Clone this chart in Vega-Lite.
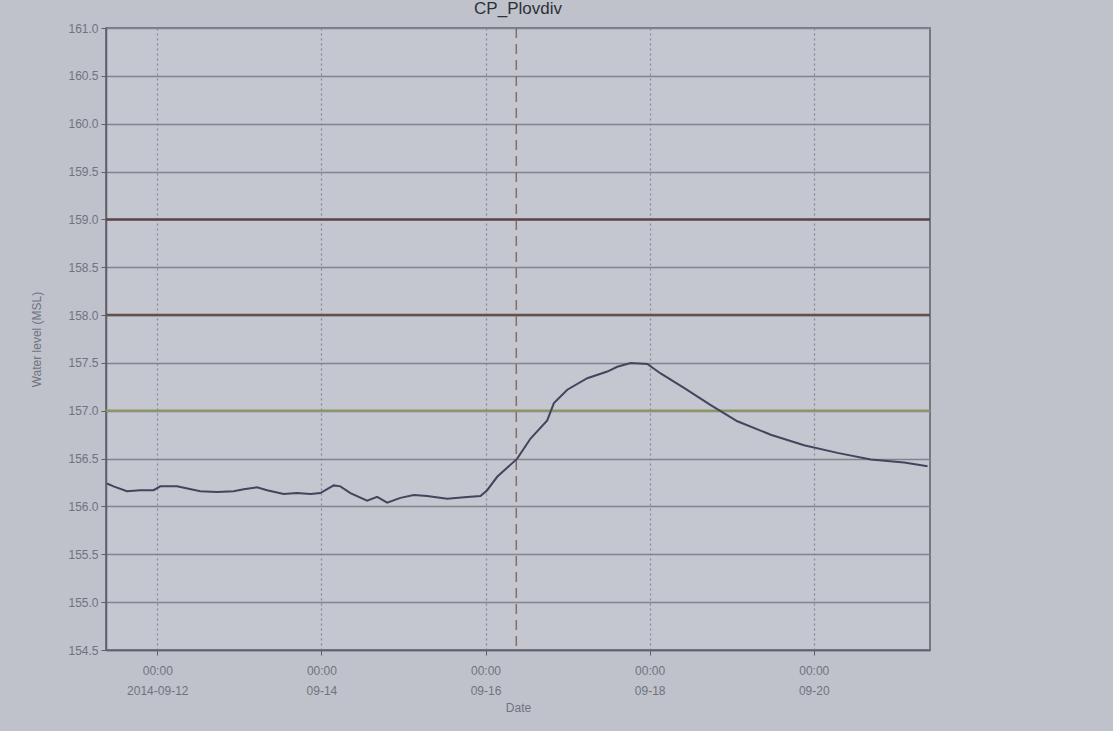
{
  "$schema": "https://vega.github.io/schema/vega-lite/v6.json",
  "autosize": "none",
  "width": 824,
  "height": 622,
  "padding": {"left": 106, "top": 28, "right": 183, "bottom": 81},
  "background": "#bfc2cb",
  "title": {"text": "CP_Plovdiv", "fontSize": 17, "font": "Liberation Sans", "fontWeight": "normal", "color": "#2e3038", "offset": 4},
  "datasets": {
    "level": [
      {"time": "2014-09-11T09:18", "level": 156.24},
      {"time": "2014-09-11T11:12", "level": 156.21},
      {"time": "2014-09-11T15:08", "level": 156.16},
      {"time": "2014-09-11T19:01", "level": 156.17},
      {"time": "2014-09-11T22:55", "level": 156.17},
      {"time": "2014-09-12T00:53", "level": 156.21},
      {"time": "2014-09-12T05:46", "level": 156.21},
      {"time": "2014-09-12T12:35", "level": 156.16},
      {"time": "2014-09-12T17:28", "level": 156.15},
      {"time": "2014-09-12T22:20", "level": 156.16},
      {"time": "2014-09-13T01:16", "level": 156.18},
      {"time": "2014-09-13T05:11", "level": 156.2},
      {"time": "2014-09-13T08:06", "level": 156.17},
      {"time": "2014-09-13T12:58", "level": 156.13},
      {"time": "2014-09-13T16:53", "level": 156.14},
      {"time": "2014-09-13T20:47", "level": 156.13},
      {"time": "2014-09-13T23:42", "level": 156.14},
      {"time": "2014-09-14T03:36", "level": 156.22},
      {"time": "2014-09-14T05:34", "level": 156.21},
      {"time": "2014-09-14T08:29", "level": 156.14},
      {"time": "2014-09-14T13:23", "level": 156.06},
      {"time": "2014-09-14T16:18", "level": 156.1},
      {"time": "2014-09-14T19:14", "level": 156.04},
      {"time": "2014-09-14T23:07", "level": 156.09},
      {"time": "2014-09-15T03:01", "level": 156.12},
      {"time": "2014-09-15T06:56", "level": 156.11},
      {"time": "2014-09-15T12:47", "level": 156.08},
      {"time": "2014-09-15T18:38", "level": 156.1},
      {"time": "2014-09-15T22:32", "level": 156.11},
      {"time": "2014-09-16T00:29", "level": 156.17},
      {"time": "2014-09-16T03:25", "level": 156.31},
      {"time": "2014-09-16T09:16", "level": 156.5},
      {"time": "2014-09-16T13:10", "level": 156.71},
      {"time": "2014-09-16T18:03", "level": 156.9},
      {"time": "2014-09-16T20:00", "level": 157.08},
      {"time": "2014-09-16T23:55", "level": 157.22},
      {"time": "2014-09-17T05:46", "level": 157.34},
      {"time": "2014-09-17T11:37", "level": 157.41},
      {"time": "2014-09-17T14:33", "level": 157.46},
      {"time": "2014-09-17T18:26", "level": 157.5},
      {"time": "2014-09-17T23:19", "level": 157.49},
      {"time": "2014-09-18T03:13", "level": 157.39},
      {"time": "2014-09-18T10:03", "level": 157.24},
      {"time": "2014-09-18T17:52", "level": 157.06},
      {"time": "2014-09-19T01:40", "level": 156.89},
      {"time": "2014-09-19T11:25", "level": 156.75},
      {"time": "2014-09-19T21:10", "level": 156.64},
      {"time": "2014-09-20T06:56", "level": 156.56},
      {"time": "2014-09-20T16:41", "level": 156.49},
      {"time": "2014-09-21T02:26", "level": 156.46},
      {"time": "2014-09-21T09:17", "level": 156.42}
    ],
    "thresholds": [
      {"kind": "level 3", "level": 159.0},
      {"kind": "level 2", "level": 158.0},
      {"kind": "level 1", "level": 157.0}
    ],
    "now": [
      {"time": "2014-09-16T09:00"}
    ]
  },
  "layer": [
    {
      "data": {"name": "thresholds"},
      "mark": {"type": "rule", "strokeWidth": 2.5},
      "encoding": {
        "y": {"field": "level", "type": "quantitative"},
        "color": {"field": "kind", "type": "nominal", "legend": null,
          "scale": {"domain": ["level 3", "level 2", "level 1"], "range": ["#5c4448", "#615248", "#8e9468"]}}
      }
    },
    {
      "data": {"name": "now"},
      "mark": {"type": "rule", "strokeWidth": 1.5, "strokeDash": [10, 6], "color": "#8a6a66"},
      "encoding": {
        "x": {"field": "time", "type": "temporal"}
      }
    },
    {
      "data": {"name": "level"},
      "mark": {"type": "line", "strokeWidth": 2, "color": "#41465e"},
      "encoding": {
        "x": {
          "field": "time", "type": "temporal", "title": "Date",
          "scale": {"domain": [{"year": 2014, "month": 9, "date": 11, "hours": 9}, {"year": 2014, "month": 9, "date": 21, "hours": 10}]},
          "axis": {
            "values": [
              {"year": 2014, "month": 9, "date": 12},
              {"year": 2014, "month": 9, "date": 14},
              {"year": 2014, "month": 9, "date": 16},
              {"year": 2014, "month": 9, "date": 18},
              {"year": 2014, "month": 9, "date": 20}
            ],
            "labelExpr": "[timeFormat(datum.value, '%H:%M'), timeFormat(datum.value, '%d') == '12' ? timeFormat(datum.value, '%Y-%m-%d') : timeFormat(datum.value, '%m-%d')]",
            "labelLineHeight": 20,
            "labelPadding": 10,
            "gridDash": [2, 3],
            "gridColor": "#7f889c",
            "gridWidth": 1.2,
            "titlePadding": 6
          }
        },
        "y": {
          "field": "level", "type": "quantitative", "title": "Water level (MSL)",
          "scale": {"domain": [154.5, 161.0], "nice": false, "zero": false},
          "axis": {
            "values": [154.5, 155.0, 155.5, 156.0, 156.5, 157.0, 157.5, 158.0, 158.5, 159.0, 159.5, 160.0, 160.5, 161.0],
            "format": ".1f",
            "gridColor": "#80848e",
            "gridWidth": 1.6,
            "labelPadding": 3,
            "titlePadding": 24
          }
        }
      }
    }
  ],
  "config": {
    "view": {"fill": "#c4c7cf", "stroke": "#5d606a", "strokeWidth": 1.5},
    "axis": {
      "labelFont": "Liberation Sans",
      "titleFont": "Liberation Sans",
      "labelFontSize": 12,
      "titleFontSize": 12,
      "titleFontWeight": "normal",
      "labelColor": "#70737c",
      "titleColor": "#70737c",
      "domainColor": "#5d606a",
      "domainWidth": 1.5,
      "tickColor": "#5d606a",
      "tickSize": 5
    }
  }
}
